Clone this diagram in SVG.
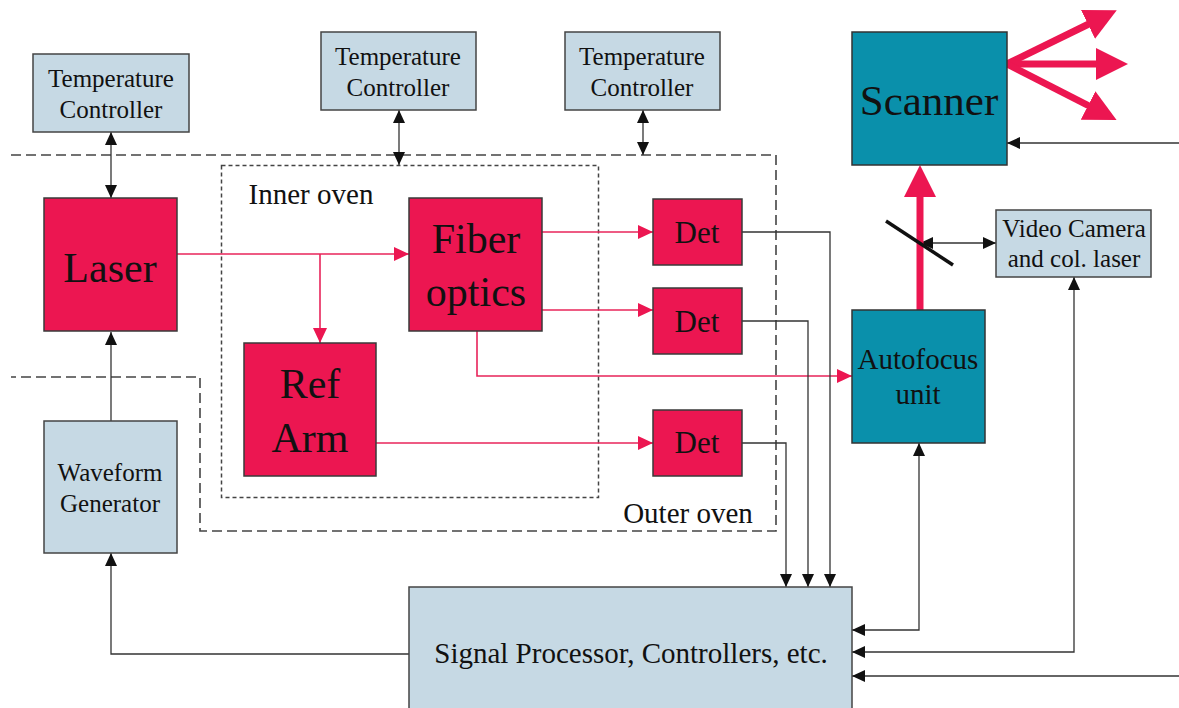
<svg xmlns="http://www.w3.org/2000/svg" width="1179" height="708" viewBox="0 0 1179 708">
<defs>
<style>
.red{fill:#EC1651;stroke:#3a3a3a;stroke-width:1.5}
.teal{fill:#0A90AB;stroke:#333;stroke-width:1.5}
.blue{fill:#C6D9E4;stroke:#444;stroke-width:1.5}
text{font-family:"Liberation Serif","Times New Roman",serif;fill:#111;text-anchor:middle}
.t25{font-size:25px}
.t29{font-size:29px}
.t31{font-size:31px}
.t42{font-size:42px}
.bl{fill:none;stroke:#333;stroke-width:1.3}
.rl{fill:none;stroke:#E8245A;stroke-width:1.6}
.thick{fill:none;stroke:#EC1651;stroke-width:7}
.outer{fill:none;stroke:#444;stroke-width:1.6;stroke-dasharray:10 5}
.inner{fill:none;stroke:#444;stroke-width:1.5;stroke-dasharray:4 3}
</style>
<marker id="ab" viewBox="0 0 13 12" refX="13" refY="6" markerWidth="13" markerHeight="12" markerUnits="userSpaceOnUse" orient="auto-start-reverse"><path d="M0,0 L13,6 L0,12 z" fill="#111"/></marker>
<marker id="ar" viewBox="0 0 15 14" refX="15" refY="7" markerWidth="15" markerHeight="14" markerUnits="userSpaceOnUse" orient="auto-start-reverse"><path d="M0,0 L15,7 L0,14 z" fill="#EC1651"/></marker>
<marker id="big" viewBox="0 0 32 32" refX="10" refY="16" markerWidth="32" markerHeight="32" markerUnits="userSpaceOnUse" orient="auto"><path d="M0,0 L32,16 L0,32 z" fill="#EC1651"/></marker>
</defs>

<g id="ovens">
<path class="outer" d="M11,155 H776 V531 H200 V377 H11"/>
<rect class="inner" x="221.5" y="165.5" width="377" height="332"/>
<text class="t29" x="311" y="204">Inner oven</text>
<text class="t29" x="688" y="523">Outer oven</text>
</g>

<g id="connectors">
<line class="bl" x1="111" y1="132" x2="111" y2="198" marker-start="url(#ab)" marker-end="url(#ab)"/>
<line class="bl" x1="399" y1="110" x2="399" y2="165" marker-start="url(#ab)" marker-end="url(#ab)"/>
<line class="bl" x1="643" y1="110" x2="643" y2="155" marker-start="url(#ab)" marker-end="url(#ab)"/>
<line class="bl" x1="111" y1="421" x2="111" y2="332" marker-end="url(#ab)"/>
<path class="rl" d="M177,254 H409" marker-end="url(#ar)"/>
<path class="rl" d="M320,254 V343" marker-end="url(#ar)"/>
<path class="rl" d="M542,232 H653" marker-end="url(#ar)"/>
<path class="rl" d="M542,310 H653" marker-end="url(#ar)"/>
<path class="rl" d="M376,443 H653" marker-end="url(#ar)"/>
<path class="rl" d="M477,331 V376 H852" marker-end="url(#ar)"/>
<path class="bl" d="M742,232 H830 V587" marker-end="url(#ab)"/>
<path class="bl" d="M742,321 H808 V587" marker-end="url(#ab)"/>
<path class="bl" d="M742,443 H786 V587" marker-end="url(#ab)"/>
<path class="bl" d="M409,654 H111 V553" marker-end="url(#ab)"/>
<path class="bl" d="M919,443 V630 H852" marker-start="url(#ab)" marker-end="url(#ab)"/>
<path class="bl" d="M1074,277 V652 H852" marker-start="url(#ab)" marker-end="url(#ab)"/>
<path class="bl" d="M1179,676 H852" marker-end="url(#ab)"/>
<path class="bl" d="M1179,143 H1007" marker-end="url(#ab)"/>
<line class="bl" x1="920" y1="243" x2="996" y2="243" marker-start="url(#ab)" marker-end="url(#ab)"/>
<line class="thick" x1="920" y1="310" x2="920" y2="187" marker-end="url(#big)"/>
<line class="thick" x1="1007" y1="64" x2="1097" y2="20" marker-end="url(#big)"/>
<line class="thick" x1="1007" y1="64" x2="1106" y2="64" marker-end="url(#big)"/>
<line class="thick" x1="1007" y1="64" x2="1097" y2="110" marker-end="url(#big)"/>
<line x1="886" y1="221" x2="953" y2="265" stroke="#111" stroke-width="3.5"/>
</g>

<g id="tc1"><rect class="blue" x="33" y="54" width="156" height="78"/><text class="t25" x="111" y="87">Temperature</text><text class="t25" x="111" y="118">Controller</text></g>
<g id="tc2"><rect class="blue" x="321" y="32" width="155" height="78"/><text class="t25" x="398" y="65">Temperature</text><text class="t25" x="398" y="96">Controller</text></g>
<g id="tc3"><rect class="blue" x="565" y="32" width="155" height="78"/><text class="t25" x="642" y="65">Temperature</text><text class="t25" x="642" y="96">Controller</text></g>
<g id="laser"><rect class="red" x="44" y="198" width="133" height="133"/><text class="t42" x="110" y="282">Laser</text></g>
<g id="waveform"><rect class="blue" x="44" y="421" width="133" height="132"/><text class="t25" x="110" y="481">Waveform</text><text class="t25" x="110" y="512">Generator</text></g>
<g id="fiber"><rect class="red" x="409" y="198" width="133" height="133"/><text class="t42" x="476" y="253">Fiber</text><text class="t42" x="476" y="306">optics</text></g>
<g id="refarm"><rect class="red" x="244" y="343" width="132" height="133"/><text class="t42" x="310" y="398">Ref</text><text class="t42" x="310" y="452">Arm</text></g>
<g id="det1"><rect class="red" x="653" y="199" width="89" height="66"/><text class="t31" x="697" y="243">Det</text></g>
<g id="det2"><rect class="red" x="653" y="288" width="89" height="66"/><text class="t31" x="697" y="332">Det</text></g>
<g id="det3"><rect class="red" x="653" y="410" width="89" height="66"/><text class="t31" x="697" y="453">Det</text></g>
<g id="scanner"><rect class="teal" x="852" y="32" width="155" height="133"/><text x="929" y="115" style="font-size:43px">Scanner</text></g>
<g id="video"><rect class="blue" x="996" y="210" width="155" height="67"/><text class="t25" x="1074" y="237">Video Camera</text><text class="t25" x="1074" y="267">and col. laser</text></g>
<g id="autofocus"><rect class="teal" x="852" y="310" width="133" height="133"/><text class="t29" x="918" y="369">Autofocus</text><text class="t29" x="918" y="404">unit</text></g>
<g id="sp"><rect class="blue" x="409" y="587" width="443" height="130"/><text class="t29" x="631" y="663">Signal Processor, Controllers, etc.</text></g>
</svg>
